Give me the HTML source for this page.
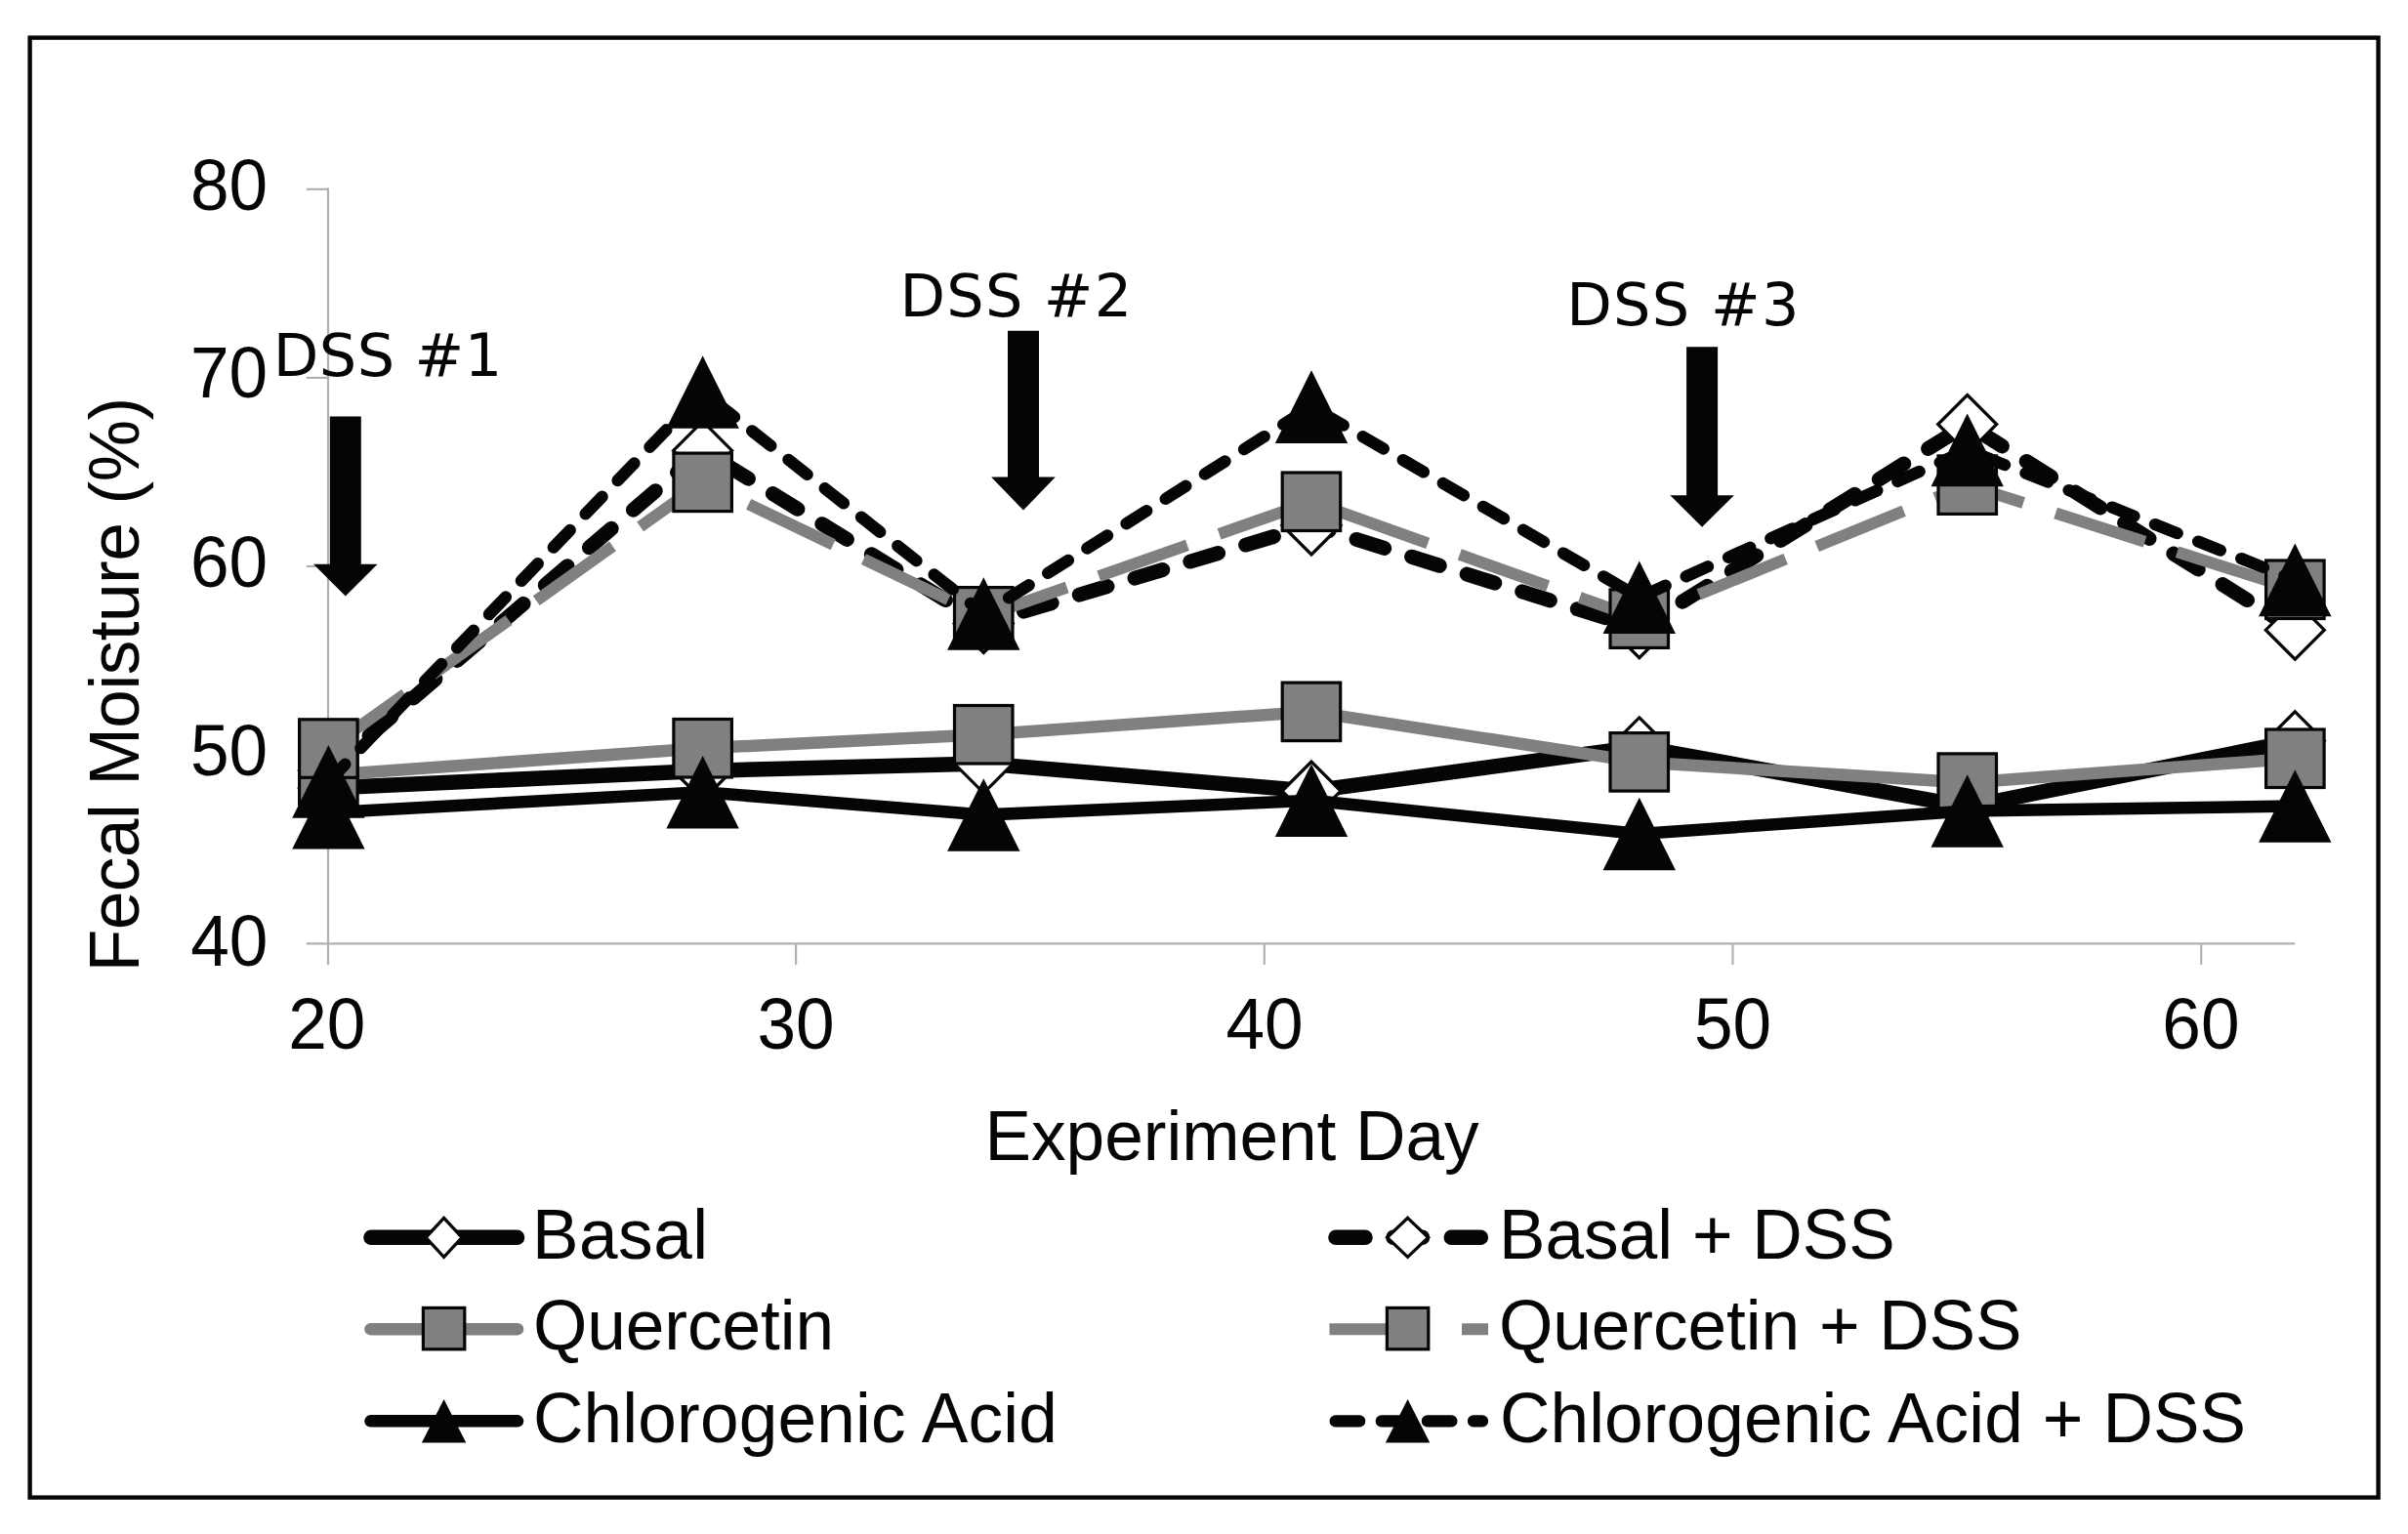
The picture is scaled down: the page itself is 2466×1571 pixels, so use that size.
<!DOCTYPE html>
<html lang="en"><head><meta charset="utf-8"><title>Fecal Moisture (%) by Experiment Day</title>
<style>
html,body{margin:0;padding:0;background:#fff;}
body{width:2466px;height:1571px;overflow:hidden;}
svg{display:block;}
.a{font-family:"Liberation Sans",Arial,Helvetica,sans-serif;font-size:71.2px;fill:#050505;}
.v{font-family:"DejaVu Sans",Verdana,Tahoma,sans-serif;font-size:60.5px;fill:#050505;}
</style></head><body>
<svg width="2466" height="1571" viewBox="0 0 2466 1571">
<rect x="0" y="0" width="2466" height="1571" fill="#fff"/>
<rect x="30.6" y="38.6" width="2405.0" height="1495.0" fill="none" stroke="#050505" stroke-width="4.4"/>
<g stroke="#b0b0b0" stroke-width="2.2" fill="none">
<line x1="336.0" y1="192.6" x2="336.0" y2="987.8"/>
<line x1="313.8" y1="966.3" x2="2350.3" y2="966.3"/>
<line x1="313.8" y1="193.8" x2="336.0" y2="193.8"/>
<line x1="313.8" y1="386.9" x2="336.0" y2="386.9"/>
<line x1="313.8" y1="580.0" x2="336.0" y2="580.0"/>
<line x1="313.8" y1="773.2" x2="336.0" y2="773.2"/>
<line x1="815.1" y1="966.3" x2="815.1" y2="987.8"/>
<line x1="1294.8" y1="966.3" x2="1294.8" y2="987.8"/>
<line x1="1774.5" y1="966.3" x2="1774.5" y2="987.8"/>
<line x1="2254.2" y1="966.3" x2="2254.2" y2="987.8"/>
</g>
<text class="a" id="y80" transform="translate(195.00 214.6) scale(1 1.035)" letter-spacing="0.000">80</text>
<text class="a" id="y70" transform="translate(195.00 407.3) scale(1 1.035)" letter-spacing="0.000">70</text>
<text class="a" id="y60" transform="translate(195.00 600.6) scale(1 1.035)" letter-spacing="0.000">60</text>
<text class="a" id="y50" transform="translate(195.00 793.8) scale(1 1.035)" letter-spacing="0.000">50</text>
<text class="a" id="y40" transform="translate(195.20 988.5) scale(1 1.035)" letter-spacing="0.000">40</text>
<text class="a" id="x20" transform="translate(295.20 1074.2) scale(1 1.035)" letter-spacing="0.000">20</text>
<text class="a" id="x30" transform="translate(775.50 1074.2) scale(1 1.035)" letter-spacing="0.000">30</text>
<text class="a" id="x40" transform="translate(1255.40 1074.2) scale(1 1.035)" letter-spacing="0.000">40</text>
<text class="a" id="x50" transform="translate(1734.90 1074.2) scale(1 1.035)" letter-spacing="0.000">50</text>
<text class="a" id="x60" transform="translate(2214.30 1074.2) scale(1 1.035)" letter-spacing="0.000">60</text>
<text class="a" id="xt" transform="translate(1008.60 1188.2) scale(1 1.022)" letter-spacing="-0.026">Experiment Day</text>
<text class="a" id="l1" transform="translate(545.00 1288.5) scale(1 1.022)" letter-spacing="0.500">Basal</text>
<text class="a" id="l2" transform="translate(545.90 1382.3) scale(1 1.022)" letter-spacing="-0.044">Quercetin</text>
<text class="a" id="l3" transform="translate(546.00 1477.0) scale(1 1.022)" letter-spacing="0.172">Chlorogenic Acid</text>
<text class="a" id="r1" transform="translate(1535.00 1288.5) scale(1 1.022)" letter-spacing="0.020">Basal + DSS</text>
<text class="a" id="r2" transform="translate(1534.90 1382.3) scale(1 1.022)" letter-spacing="-0.039">Quercetin + DSS</text>
<text class="a" id="r3" transform="translate(1535.90 1477.0) scale(1 1.022)" letter-spacing="0.118">Chlorogenic Acid + DSS</text>
<text class="v" id="d1" transform="translate(279.70 385.4) scale(1 1.000)" letter-spacing="0.560">DSS #1</text>
<text class="v" id="d2" transform="translate(921.60 324.3) scale(1 1.000)" letter-spacing="1.160">DSS #2</text>
<text class="v" id="d3" transform="translate(1604.20 333.2) scale(1 1.000)" letter-spacing="1.280">DSS #3</text>
<text class="a" id="yt" transform="translate(141.8 995.20) rotate(-90) scale(1 1.022)" letter-spacing="-0.517">Fecal Moisture (%)</text>
<polyline points="336.4,807.0 719.6,789.4 1007.3,782.1 1343.0,810.1 1678.8,764.9 2014.7,826.3 2350.3,758.8" fill="none" stroke="#050505" stroke-width="15.5" stroke-linecap="round" stroke-linejoin="round"/>
<g><polygon points="336.4,777.0 366.4,807.0 336.4,837.0 306.4,807.0" fill="#fff" stroke="#050505" stroke-width="3.2" stroke-linejoin="miter"/>
<polygon points="719.6,759.4 749.6,789.4 719.6,819.4 689.6,789.4" fill="#fff" stroke="#050505" stroke-width="3.2" stroke-linejoin="miter"/>
<polygon points="1007.3,752.1 1037.3,782.1 1007.3,812.1 977.3,782.1" fill="#fff" stroke="#050505" stroke-width="3.2" stroke-linejoin="miter"/>
<polygon points="1343.0,780.1 1373.0,810.1 1343.0,840.1 1313.0,810.1" fill="#fff" stroke="#050505" stroke-width="3.2" stroke-linejoin="miter"/>
<polygon points="1678.8,734.9 1708.8,764.9 1678.8,794.9 1648.8,764.9" fill="#fff" stroke="#050505" stroke-width="3.2" stroke-linejoin="miter"/>
<polygon points="2014.7,796.3 2044.7,826.3 2014.7,856.3 1984.7,826.3" fill="#fff" stroke="#050505" stroke-width="3.2" stroke-linejoin="miter"/>
<polygon points="2350.3,728.8 2380.3,758.8 2350.3,788.8 2320.3,758.8" fill="#fff" stroke="#050505" stroke-width="3.2" stroke-linejoin="miter"/></g>
<polyline points="336.4,789.1 719.6,461.4 1007.3,638.5 1343.0,537.9 1678.8,643.7 2014.7,434.5 2350.3,645.2" fill="none" stroke="#050505" stroke-width="15.0" stroke-linecap="round" stroke-linejoin="round" stroke-dasharray="30 29.3" stroke-dashoffset="4.5"/>
<g><polygon points="336.4,759.1 366.4,789.1 336.4,819.1 306.4,789.1" fill="#fff" stroke="#050505" stroke-width="3.2" stroke-linejoin="miter"/>
<polygon points="719.6,431.4 749.6,461.4 719.6,491.4 689.6,461.4" fill="#fff" stroke="#050505" stroke-width="3.2" stroke-linejoin="miter"/>
<polygon points="1007.3,608.5 1037.3,638.5 1007.3,668.5 977.3,638.5" fill="#fff" stroke="#050505" stroke-width="3.2" stroke-linejoin="miter"/>
<polygon points="1343.0,507.9 1373.0,537.9 1343.0,567.9 1313.0,537.9" fill="#fff" stroke="#050505" stroke-width="3.2" stroke-linejoin="miter"/>
<polygon points="1678.8,613.7 1708.8,643.7 1678.8,673.7 1648.8,643.7" fill="#fff" stroke="#050505" stroke-width="3.2" stroke-linejoin="miter"/>
<polygon points="2014.7,404.5 2044.7,434.5 2014.7,464.5 1984.7,434.5" fill="#fff" stroke="#050505" stroke-width="3.2" stroke-linejoin="miter"/>
<polygon points="2350.3,615.2 2380.3,645.2 2350.3,675.2 2320.3,645.2" fill="#fff" stroke="#050505" stroke-width="3.2" stroke-linejoin="miter"/></g>
<polyline points="336.4,793.7 719.6,766.2 1007.3,752.3 1343.0,728.9 1678.8,780.4 2014.7,801.6 2350.3,776.7" fill="none" stroke="#808080" stroke-width="12.5" stroke-linecap="round" stroke-linejoin="round"/>
<g><rect x="306.6" y="764.0" width="59.5" height="59.5" fill="#808080" stroke="#050505" stroke-width="3.2"/>
<rect x="689.9" y="736.5" width="59.5" height="59.5" fill="#808080" stroke="#050505" stroke-width="3.2"/>
<rect x="977.5" y="722.5" width="59.5" height="59.5" fill="#808080" stroke="#050505" stroke-width="3.2"/>
<rect x="1313.2" y="699.1" width="59.5" height="59.5" fill="#808080" stroke="#050505" stroke-width="3.2"/>
<rect x="1649.0" y="750.6" width="59.5" height="59.5" fill="#808080" stroke="#050505" stroke-width="3.2"/>
<rect x="1985.0" y="771.9" width="59.5" height="59.5" fill="#808080" stroke="#050505" stroke-width="3.2"/>
<rect x="2320.6" y="747.0" width="59.5" height="59.5" fill="#808080" stroke="#050505" stroke-width="3.2"/></g>
<polyline points="336.4,766.5 719.6,493.9 1007.3,631.4 1343.0,513.8 1678.8,633.6 2014.7,496.7 2350.3,603.7" fill="none" stroke="#808080" stroke-width="12.0" stroke-linecap="butt" stroke-linejoin="round" stroke-dasharray="96 34.6"/>
<g><rect x="306.6" y="736.8" width="59.5" height="59.5" fill="#808080" stroke="#050505" stroke-width="3.2"/>
<rect x="689.9" y="464.1" width="59.5" height="59.5" fill="#808080" stroke="#050505" stroke-width="3.2"/>
<rect x="977.5" y="601.6" width="59.5" height="59.5" fill="#808080" stroke="#050505" stroke-width="3.2"/>
<rect x="1313.2" y="484.0" width="59.5" height="59.5" fill="#808080" stroke="#050505" stroke-width="3.2"/>
<rect x="1649.0" y="603.9" width="59.5" height="59.5" fill="#808080" stroke="#050505" stroke-width="3.2"/>
<rect x="1985.0" y="466.9" width="59.5" height="59.5" fill="#808080" stroke="#050505" stroke-width="3.2"/>
<rect x="2320.6" y="574.0" width="59.5" height="59.5" fill="#808080" stroke="#050505" stroke-width="3.2"/></g>
<polyline points="336.4,832.3 719.6,811.2 1007.3,834.5 1343.0,819.8 1678.8,854.0 2014.7,830.5 2350.3,825.5" fill="none" stroke="#050505" stroke-width="12.5" stroke-linecap="round" stroke-linejoin="round"/>
<g><polygon points="336.4,795.0 373.6,869.6 299.2,869.6" fill="#050505"/>
<polygon points="719.6,773.9 756.8,848.5 682.4,848.5" fill="#050505"/>
<polygon points="1007.3,797.2 1044.5,871.8 970.1,871.8" fill="#050505"/>
<polygon points="1343.0,782.5 1380.2,857.1 1305.8,857.1" fill="#050505"/>
<polygon points="1678.8,816.7 1716.0,891.3 1641.6,891.3" fill="#050505"/>
<polygon points="2014.7,793.2 2051.9,867.8 1977.5,867.8" fill="#050505"/>
<polygon points="2350.3,788.2 2387.5,862.8 2313.1,862.8" fill="#050505"/></g>
<polyline points="336.4,800.4 719.6,401.5 1007.3,628.5 1343.0,416.6 1678.8,611.8 2014.7,460.9 2350.3,593.9" fill="none" stroke="#050505" stroke-width="12.3" stroke-linecap="round" stroke-linejoin="round" stroke-dasharray="24.5 23.0"/>
<g><polygon points="336.4,763.1 373.6,837.7 299.2,837.7" fill="#050505"/>
<polygon points="719.6,364.2 756.8,438.8 682.4,438.8" fill="#050505"/>
<polygon points="1007.3,591.2 1044.5,665.8 970.1,665.8" fill="#050505"/>
<polygon points="1343.0,379.3 1380.2,453.9 1305.8,453.9" fill="#050505"/>
<polygon points="1678.8,574.5 1716.0,649.1 1641.6,649.1" fill="#050505"/>
<polygon points="2014.7,423.6 2051.9,498.2 1977.5,498.2" fill="#050505"/>
<polygon points="2350.3,556.6 2387.5,631.2 2313.1,631.2" fill="#050505"/></g>
<polygon points="337.8,426.6 369.8,426.6 369.8,577.8 386.6,577.8 353.8,610.6 321.0,577.8 337.8,577.8" fill="#050505"/>
<polygon points="1032.0,338.7 1064.0,338.7 1064.0,488.6 1080.8,488.6 1048.0,522.6 1015.2,488.6 1032.0,488.6" fill="#050505"/>
<polygon points="1727.1,355.2 1759.1,355.2 1759.1,507.2 1775.9,507.2 1743.1,539.7 1710.3,507.2 1727.1,507.2" fill="#050505"/>
<line x1="380.0" y1="1267.3" x2="529.5" y2="1267.3" stroke="#050505" stroke-width="15.5" stroke-linecap="round"/>
<polygon points="454.6,1247.3 473.1,1267.3 454.6,1287.3 436.1,1267.3" fill="#fff" stroke="#050505" stroke-width="3.2" stroke-linejoin="miter"/>
<line x1="379.5" y1="1361.2" x2="530.0" y2="1361.2" stroke="#808080" stroke-width="12.5" stroke-linecap="round"/>
<rect x="433.4" y="1339.4" width="42.4" height="42.4" fill="#808080" stroke="#050505" stroke-width="3.2"/>
<line x1="379.5" y1="1455.3" x2="530.0" y2="1455.3" stroke="#050505" stroke-width="12.5" stroke-linecap="round"/>
<polygon points="454.6,1433.0 477.3,1477.6 431.9,1477.6" fill="#050505"/>
<line x1="1368.0" y1="1267.3" x2="1398.0" y2="1267.3" stroke="#050505" stroke-width="15.5" stroke-linecap="round"/>
<line x1="1427.0" y1="1267.3" x2="1456.5" y2="1267.3" stroke="#050505" stroke-width="15.5" stroke-linecap="round"/>
<line x1="1486.3" y1="1267.3" x2="1516.3" y2="1267.3" stroke="#050505" stroke-width="15.5" stroke-linecap="round"/>
<polygon points="1441.6,1247.3 1462.6,1267.3 1441.6,1287.3 1420.6,1267.3" fill="#fff" stroke="#050505" stroke-width="3.2" stroke-linejoin="miter"/>
<line x1="1361.5" y1="1361.2" x2="1524.0" y2="1361.2" stroke="#808080" stroke-width="12.0" stroke-dasharray="96 39.5"/>
<rect x="1420.4" y="1339.4" width="42.4" height="42.4" fill="#808080" stroke="#050505" stroke-width="3.2"/>
<line x1="1367.7" y1="1455.3" x2="1518.0" y2="1455.3" stroke="#050505" stroke-width="12.3" stroke-linecap="round" stroke-dasharray="24.5 22.6"/>
<polygon points="1441.6,1433.0 1464.3,1477.6 1418.9,1477.6" fill="#050505"/>
</svg>
</body></html>
